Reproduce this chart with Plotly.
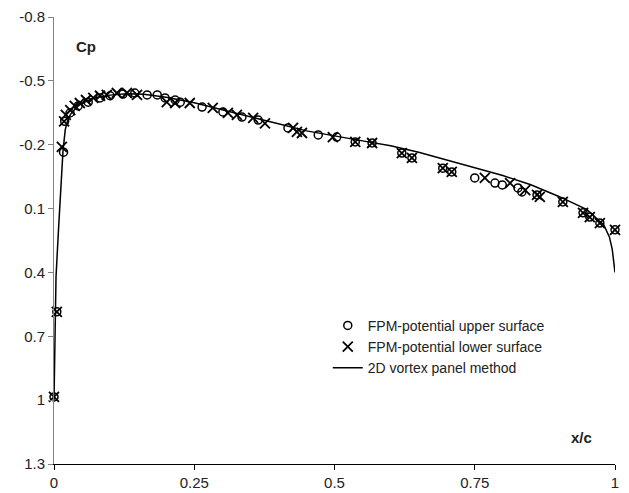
import plotly.graph_objects as go

# 2D vortex panel method curve
x_panel = [0.0, 0.001, 0.002, 0.0036, 0.008, 0.012, 0.016, 0.02, 0.025, 0.03, 0.04, 0.05, 0.07,
           0.1, 0.13, 0.16, 0.2, 0.25, 0.3, 0.35, 0.4, 0.45, 0.5, 0.55, 0.6, 0.65, 0.7, 0.75,
           0.8, 0.85, 0.9, 0.95, 0.98, 0.99, 0.995, 1.0]
cp_panel = [1.0, 0.8, 0.6, 0.42, 0.2, 0.0, -0.17, -0.27, -0.32, -0.345, -0.375, -0.395, -0.418,
            -0.433, -0.44, -0.437, -0.423, -0.397, -0.365, -0.333, -0.298, -0.265, -0.24, -0.218,
            -0.195, -0.165, -0.128, -0.09, -0.055, -0.012, 0.043, 0.105, 0.177, 0.233, 0.29, 0.40]

# FPM-potential upper surface
x_upper = [0.0, 0.005, 0.017, 0.019, 0.0285, 0.043, 0.061, 0.082, 0.1, 0.123, 0.144, 0.166,
           0.184, 0.198, 0.216, 0.225, 0.264, 0.301, 0.335, 0.364, 0.417, 0.471, 0.504, 0.537,
           0.567, 0.62, 0.638, 0.693, 0.709, 0.75, 0.786, 0.799, 0.827, 0.834, 0.861, 0.907,
           0.943, 0.955, 0.973, 1.0]
cp_upper = [0.985, 0.585, -0.165, -0.31, -0.349, -0.382, -0.40, -0.42, -0.43, -0.438, -0.443,
            -0.434, -0.434, -0.42, -0.41, -0.40, -0.377, -0.354, -0.33, -0.316, -0.279, -0.246,
            -0.236, -0.213, -0.208, -0.161, -0.138, -0.09, -0.072, -0.044, -0.02, -0.011, 0.003,
            0.022, 0.036, 0.069, 0.12, 0.14, 0.168, 0.20]

# FPM-potential lower surface
x_lower = [0.0, 0.005, 0.014, 0.018, 0.021, 0.029, 0.037, 0.046, 0.057, 0.07, 0.082, 0.094,
           0.112, 0.13, 0.148, 0.201, 0.216, 0.242, 0.283, 0.31, 0.326, 0.355, 0.376, 0.426,
           0.433, 0.442, 0.497, 0.537, 0.567, 0.62, 0.638, 0.693, 0.709, 0.768, 0.813, 0.84,
           0.861, 0.866, 0.907, 0.943, 0.955, 0.973, 1.0]
cp_lower = [0.985, 0.585, -0.19, -0.31, -0.34, -0.363, -0.382, -0.396, -0.41, -0.42, -0.43,
            -0.434, -0.443, -0.443, -0.434, -0.40, -0.396, -0.396, -0.373, -0.35, -0.34, -0.326,
            -0.30, -0.279, -0.26, -0.255, -0.236, -0.213, -0.208, -0.161, -0.138, -0.09, -0.072,
            -0.044, -0.02, 0.013, 0.036, 0.045, 0.069, 0.12, 0.14, 0.168, 0.20]

x_ticks = [0, 0.25, 0.5, 0.75, 1]
y_ticks = [-0.8, -0.5, -0.2, 0.1, 0.4, 0.7, 1, 1.3]

fig = go.Figure()
fig.add_trace(go.Scatter(
    x=x_upper, y=cp_upper, mode="markers", name="FPM-potential upper surface",
    marker=dict(symbol="circle-open", size=8, color="black", line=dict(width=1.5, color="black")),
    cliponaxis=False))
fig.add_trace(go.Scatter(
    x=x_lower, y=cp_lower, mode="markers", name="FPM-potential lower surface",
    marker=dict(symbol="x-thin-open", size=10, color="black", line=dict(width=1.8, color="black")),
    cliponaxis=False))
fig.add_trace(go.Scatter(
    x=x_panel, y=cp_panel, mode="lines", name="2D vortex panel method",
    line=dict(color="black", width=1.5), cliponaxis=False))

fig.update_layout(
    width=629, height=493,
    margin=dict(l=54, r=14, t=17, b=29, autoexpand=False),
    paper_bgcolor="white", plot_bgcolor="white",
    font=dict(family="Liberation Sans, Arial, sans-serif", size=15, color="#222"),
    showlegend=True,
    legend=dict(x=0.488, y=0.345, xanchor="left", yanchor="top",
                bgcolor="rgba(0,0,0,0)", font=dict(size=14, color="#222"),
                tracegroupgap=0),
    annotations=[
        dict(text="<b>Cp</b>", xref="paper", yref="paper", x=0.057, y=0.935,
             xanchor="center", yanchor="middle",
             showarrow=False, font=dict(size=15, color="#222")),
        dict(text="<b>x/c</b>", xref="paper", yref="paper", x=0.941, y=0.0604,
             xanchor="center", yanchor="middle",
             showarrow=False, font=dict(size=15, color="#222")),
    ],
)
fig.update_xaxes(range=[0, 1], tickvals=x_ticks, ticktext=[str(v) for v in x_ticks],
                 showgrid=False, zeroline=False, showline=True, linecolor="black", linewidth=1,
                 ticks="outside", ticklen=5, tickcolor="black", automargin=False)
fig.update_yaxes(range=[1.3, -0.8], tickvals=y_ticks, ticktext=[str(v) for v in y_ticks],
                 showgrid=False, zeroline=False, showline=True, linecolor="#808080", linewidth=1,
                 ticks="outside", ticklen=5, tickcolor="#808080", automargin=False)

fig.write_html("out.html")
